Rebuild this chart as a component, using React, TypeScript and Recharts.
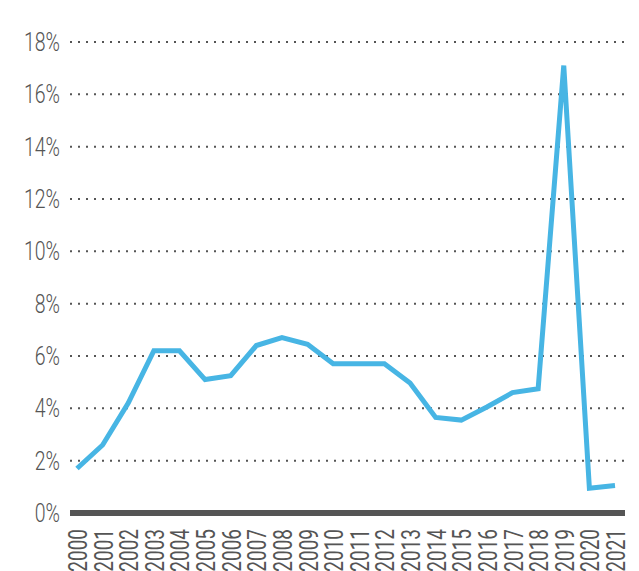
import React from 'react';
import { LineChart, Line, XAxis, YAxis, CartesianGrid } from 'recharts';

// Annual rate, in percent, per year
const years = [
  '2000', '2001', '2002', '2003', '2004', '2005', '2006', '2007', '2008', '2009', '2010',
  '2011', '2012', '2013', '2014', '2015', '2016', '2017', '2018', '2019', '2020', '2021',
];
const rates = [
  1.7, 2.6, 4.2, 6.2, 6.2, 5.1, 5.25, 6.4, 6.7, 6.45, 5.7,
  5.7, 5.7, 4.97, 3.65, 3.55, 4.05, 4.6, 4.75, 17.1, 0.95, 1.05,
];
const yTicks = [0, 2, 4, 6, 8, 10, 12, 14, 16, 18];

const data = years.map((year, i) => ({ year, rate: rates[i] }));

const FONT = 'Roboto, "Liberation Sans Narrow", sans-serif';
const TEXT_COLOR = '#555555';
const LINE_COLOR = '#47b5e4';

const YTick = (props: any) => {
  const { y, payload } = props;
  return (
    <text
      transform={`translate(60, ${y}) scale(0.78, 1)`}
      textAnchor="end"
      dominantBaseline="central"
      fontFamily={FONT}
      fontWeight={300}
      fontSize={25}
      fill={TEXT_COLOR}
    >
      {`${payload.value}%`}
    </text>
  );
};

const XTick = (props: any) => {
  const { x, payload } = props;
  return (
    <text
      transform={`translate(${x + 1}, 529) rotate(-90) scale(0.76, 1)`}
      textAnchor="end"
      dominantBaseline="central"
      fontFamily={FONT}
      fontWeight={400}
      fontSize={25}
      fill={TEXT_COLOR}
    >
      {payload.value}
    </text>
  );
};

export default function App() {
  return (
    <div style={{ position: 'absolute', left: 0, top: 0, background: '#fff' }}>
      <LineChart
        width={639}
        height={571}
        data={data}
        margin={{ top: 42, right: 14, bottom: 0, left: 0 }}
      >
        <CartesianGrid
          vertical={false}
          stroke="#555555"
          strokeWidth={2}
          strokeDasharray="2 6"
        />
        <XAxis
          dataKey="year"
          interval={0}
          height={58}
          padding={{ left: 7, right: 10 }}
          axisLine={{ stroke: '#555555', strokeWidth: 6 }}
          tickLine={false}
          tick={<XTick />}
        />
        <YAxis
          domain={[0, 18]}
          ticks={yTicks}
          width={70}
          axisLine={false}
          tickLine={false}
          tick={<YTick />}
        />
        <Line
          type="linear"
          dataKey="rate"
          stroke={LINE_COLOR}
          strokeWidth={5}
          dot={false}
          activeDot={false}
          isAnimationActive={false}
        />
      </LineChart>
    </div>
  );
}
